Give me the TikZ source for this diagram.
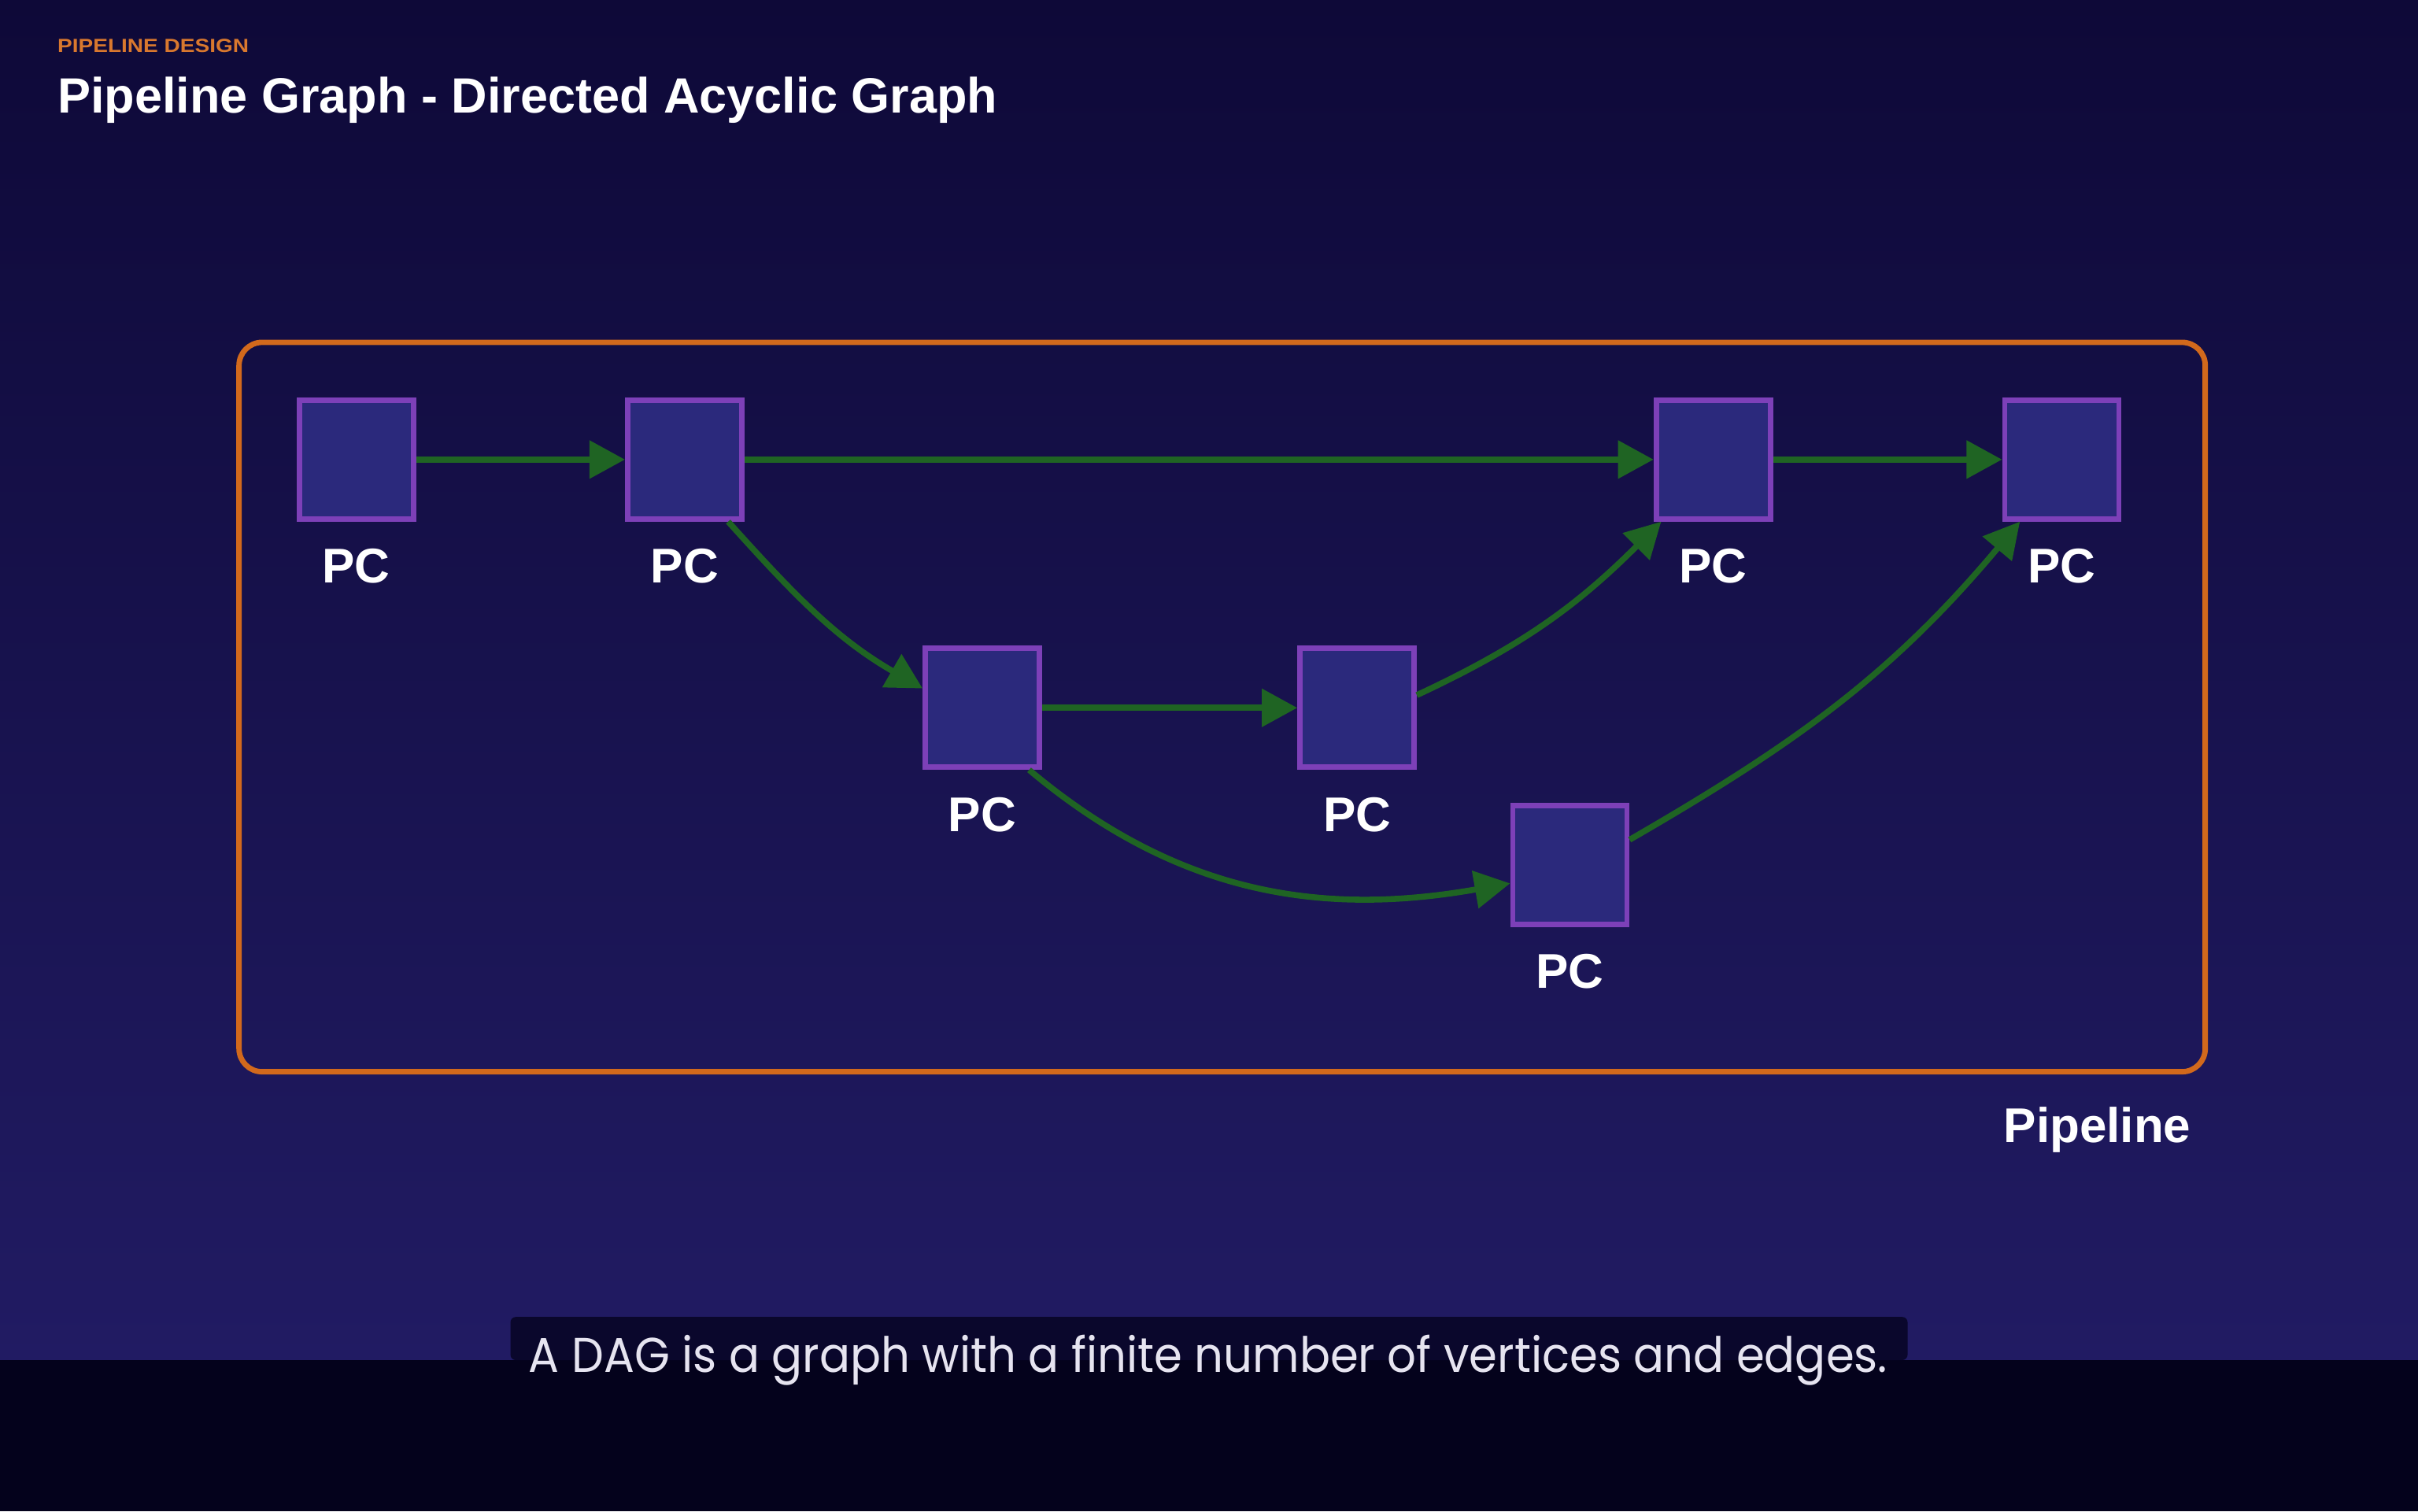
\documentclass[tikz,border=0pt]{standalone}
\usepackage{fontspec}
\setmainfont{Liberation Sans}
\newfontfamily\capfont{Poppins}
\usepackage{graphicx}
\usepackage{xcolor}
\usepackage{tikz}
\usetikzlibrary{positioning,arrows.meta}
\definecolor{bgtop}{HTML}{0E0938}
\definecolor{bgbot}{HTML}{211B63}
\definecolor{band}{HTML}{04021C}
\definecolor{capbox}{HTML}{0A072C}
\definecolor{pcfill}{HTML}{2B297C}
\definecolor{pcedge}{HTML}{7D40B8}
\definecolor{edgegreen}{HTML}{1F6423}
\definecolor{frameorange}{HTML}{D2691C}
\definecolor{kicker}{HTML}{D9782E}
\definecolor{captext}{HTML}{E6E4F0}

\begin{document}
\begin{tikzpicture}[font=\bfseries\fontsize{18}{21}\selectfont,
      pc/.style={draw=pcedge,line width=2pt,fill=pcfill,minimum width=1.48cm,minimum height=1.54cm,inner sep=0pt},
      lbl/.style={text=white,anchor=base,inner sep=0pt},
      pipe/.style={draw=frameorange,line width=2pt,rounded corners=0.3cm,minimum width=25.5cm,minimum height=9.46cm},
      arr/.style={draw=edgegreen,line width=2.2pt,-{Triangle[length=0.46cm,width=0.48cm]}}]
    \useasboundingbox (0,0) rectangle (31.36,-19.6);
    \fill[top color=bgtop,bottom color=bgbot] (0,0) rectangle (31.36,-17.64);
    \fill[band] (0,-17.64) rectangle (31.36,-19.6);
    \node[anchor=base west,inner sep=0pt,text=kicker,font=\bfseries\fontsize{7}{8}\selectfont] (kick) at (0.74,-0.68) {\resizebox{2.48cm}{\height}{PIPELINE DESIGN}};
    \node[anchor=base west,inner sep=0pt,text=white,font=\bfseries\fontsize{18.3}{22}\selectfont] (title) at (0.74,-1.46) {Pipeline Graph - Directed Acyclic Graph};
    \node[pipe] (pipeline) at (15.85,-9.17) {};
    \node[lbl] (pipelab) at (27.2,-14.82) {Pipeline};
    \foreach \n/\x/\y in {a/4.62/-5.96,b/8.88/-5.96,c/12.74/-9.18,d/17.60/-9.18,e/20.36/-11.22,f/22.22/-5.96,g/26.74/-5.96} {
      \node[pc] (\n) at (\x,\y) {};
      \node[lbl] (\n lab) at (\x,\y-1.6) {PC};
    }
    \draw[arr] (a) -- (b);
    \draw[arr] (b) -- (f);
    \draw[arr] (f) -- (g);
    \draw[arr] (c) -- (d);
    \draw[arr] (b.-55) to[out=-48,in=150] (c.162);
    \draw[arr] (d.12) to[out=25,in=225] (f.230);
    \draw[arr] (c.-53) to[out=-40,in=190] (e.197);
    \draw[arr] (e.23) to[out=30,in=230] (g.236);
    \fill[capbox,rounded corners=2pt] (6.62,-17.08) rectangle (24.74,-17.64);
    \node[anchor=base,inner sep=0pt,text=captext,font=\capfont\fontsize{18}{21}\selectfont] (caption) at (15.67,-17.8) {\resizebox{17.62cm}{\height}{A DAG is a graph with a finite number of vertices and edges.}};
\end{tikzpicture}
\end{document}
